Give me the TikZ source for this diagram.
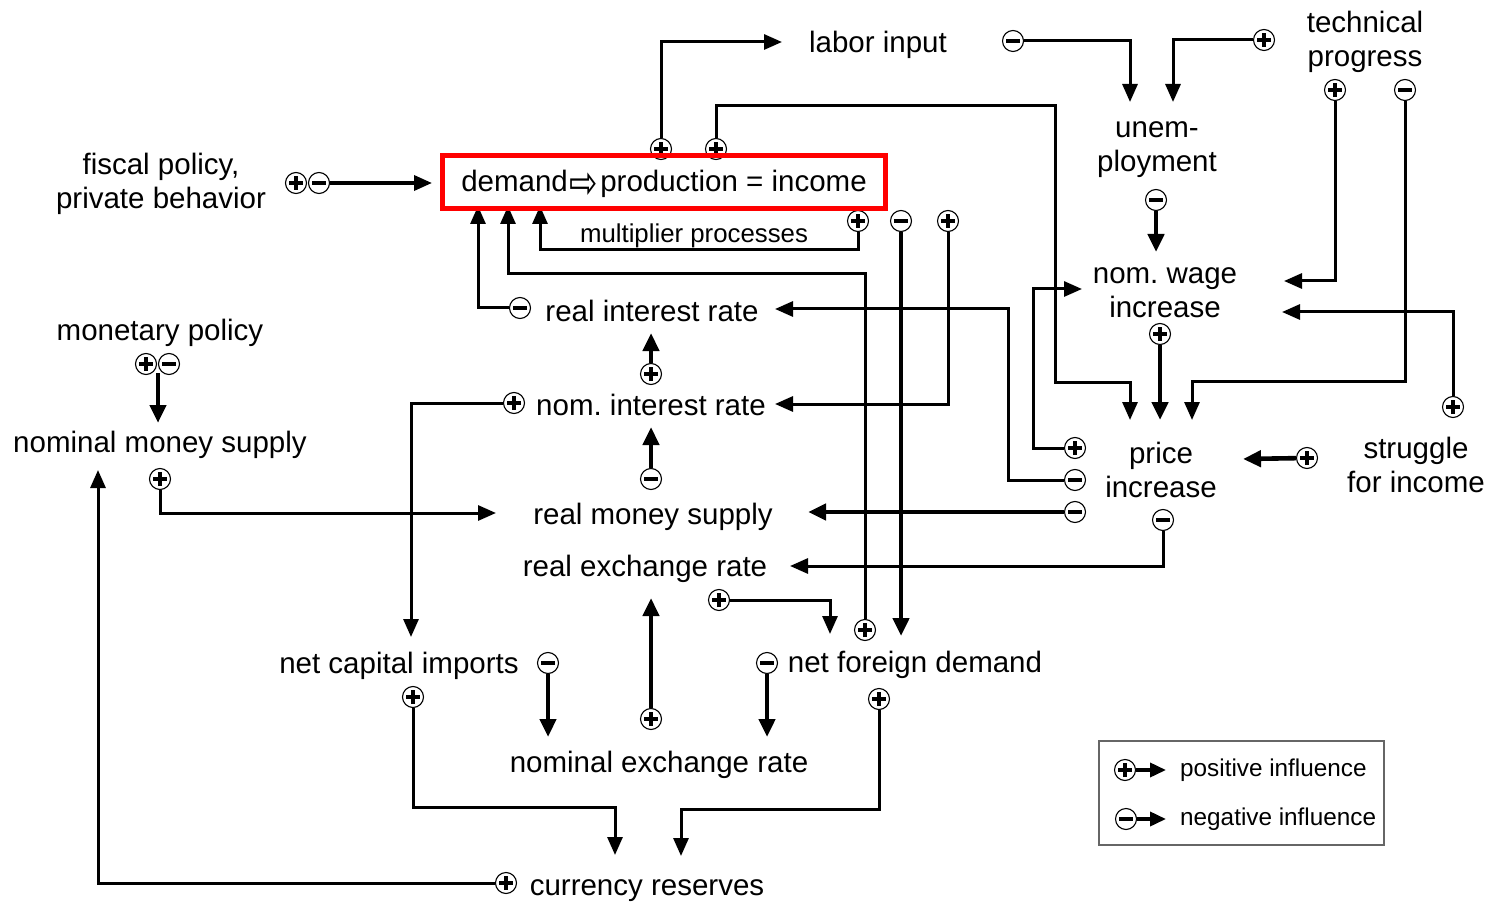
\documentclass[tikz,border=0pt]{standalone}
\usepackage{fontspec}
\setmainfont{Liberation Sans}
\newfontfamily\djv{DejaVu Sans}
\usetikzlibrary{arrows.meta}
\frenchspacing
\begin{document}
\begin{tikzpicture}[x=1pt,y=-1pt,
  txt/.style={font=\fontsize{29.5}{34}\selectfont, inner sep=0pt},
  txtm/.style={txt, align=center},
  sml/.style={font=\fontsize{25.8}{30}\selectfont, inner sep=0pt},
  lgd/.style={font=\fontsize{24.3}{28}\selectfont, inner sep=0pt, anchor=west},
  sgn/.style={circle, draw, line width=1.1pt, fill=white, minimum size=21pt, inner sep=0pt},
  pl/.style={sgn, path picture={\draw[line width=3.2pt]
      ([xshift=-7pt]path picture bounding box.center) -- ([xshift=7pt]path picture bounding box.center)
      ([yshift=-7pt]path picture bounding box.center) -- ([yshift=7pt]path picture bounding box.center);}},
  mi/.style={sgn, path picture={\draw[line width=3.2pt]
      ([xshift=-7pt]path picture bounding box.center) -- ([xshift=7pt]path picture bounding box.center);}},
  thin/.style={line width=3pt, -{Triangle[length=18pt,width=15pt]}},
  thick/.style={line width=4.6pt, -{Triangle[length=18pt,width=16pt]}},
  lgarrow/.style={line width=3.6pt, -{Triangle[length=16pt,width=14pt]}}
]
\useasboundingbox (0,0) rectangle (1499,909);

% ---------- text nodes ----------
\node[txt, anchor=base] (labor) at (878,53) {labor input};
\node[txtm] (tech) at (1365,42) {technical\\progress};
\node[txtm] (unemp) at (1157,150) {unem-\\ployment};
\node[txtm] (fiscal) at (161,184) {fiscal policy,\\private behavior};
\node[sml, anchor=base] (multi) at (694,243) {multiplier processes};
\node[txt, anchor=base] (monpol) at (160,340) {monetary policy};
\node[txt, anchor=base] (nms) at (160,452) {nominal money supply};
\node[txt, anchor=base] (rir) at (652,321) {real interest rate};
\node[txt, anchor=base] (nir) at (651,415) {nom. interest rate};
\node[txt, anchor=base] (rms) at (653,524) {real money supply};
\node[txt, anchor=base] (rer) at (645,576) {real exchange rate};
\node[txt, anchor=base] (nci) at (399,673) {net capital imports};
\node[txt, anchor=base] (nfd) at (915,672) {net foreign demand};
\node[txt, anchor=base] (ner) at (659,772) {nominal exchange rate};
\node[txt, anchor=base] (cres) at (647,895) {currency reserves};
\node[txtm] (wage) at (1165,292.5) {nom. wage\\increase};
\node[txtm] (price) at (1161,470) {price\\increase};
\node[txtm] (strug) at (1416,465) {struggle\\for income};

% ---------- arrow tip coordinates ----------
\coordinate (t1) at (782,42);
\coordinate (t2) at (1130,420);
\coordinate (t3) at (1130,102);
\coordinate (t4) at (1173,102);
\coordinate (t5) at (1284,281);
\coordinate (t6) at (1192,420);
\coordinate (t7) at (1156,252);
\coordinate (t8) at (1160,420);
\coordinate (t9) at (1282,312);
\coordinate (t10) at (1243,459);
\coordinate (t11) at (1082,289);
\coordinate (t12) at (775,309);
\coordinate (t13) at (808,512);
\coordinate (t14) at (790,566);
\coordinate (t15) at (432,183);
\coordinate (t16) at (540,206);
\coordinate (t17) at (901,636);
\coordinate (t18) at (775,404);
\coordinate (t19) at (478,206);
\coordinate (t20) at (508,206);
\coordinate (t21) at (651,333);
\coordinate (t22) at (651,427);
\coordinate (t23) at (411,637);
\coordinate (t24) at (158,423);
\coordinate (t25) at (496,513);
\coordinate (t26) at (830,634);
\coordinate (t27) at (548,737);
\coordinate (t28) at (651,598);
\coordinate (t29) at (767,737);
\coordinate (t30) at (615,855);
\coordinate (t31) at (681,856);
\coordinate (t32) at (98,470);
\coordinate (mp) at (158,373);

% ---------- sign nodes ----------
\node[pl] (s1) at (661,149) {};
\node[pl] (s2) at (716,149) {};
\node[mi] (s3) at (1013,41) {};
\node[pl] (s4) at (1264,40) {};
\node[pl] (s5) at (1335,90) {};
\node[mi] (s6) at (1405,90) {};
\node[mi] (s7) at (1156,200) {};
\node[pl] (s8) at (1160,334) {};
\node[pl] (s9) at (1453,407) {};
\node[pl] (s10) at (1307,458) {};
\node[pl] (s11) at (1075,448) {};
\node[mi] (s12) at (1075,480) {};
\node[mi] (s13) at (1075,512) {};
\node[mi] (s14) at (1163,520) {};
\node[pl] (s15a) at (296,183) {};
\node[mi] (s15b) at (319,183) {};
\node[pl] (s16) at (858,221) {};
\node[mi] (s17) at (901,221) {};
\node[pl] (s18) at (948,221) {};
\node[mi] (s19) at (520,308) {};
\node[pl] (s20) at (865,630) {};
\node[pl] (s21) at (651,374) {};
\node[mi] (s22) at (651,479) {};
\node[pl] (s23) at (514,403) {};
\node[pl] (s24a) at (146,364) {};
\node[mi] (s24b) at (169,364) {};
\node[pl] (s25) at (160,479) {};
\node[pl] (s26) at (719,600) {};
\node[mi] (s27) at (548,663) {};
\node[pl] (s28) at (651,719) {};
\node[mi] (s29) at (767,663) {};
\node[pl] (s30) at (413,697) {};
\node[pl] (s31) at (879,699) {};
\node[pl] (s32) at (506,883) {};

% ---------- connectors ----------
\draw[thin] (s1) |- (t1);
\draw[thin] (s2) |- (1055,106) |- (1130,382) -- (t2);
\draw[thin] (s3) -| (t3);
\draw[thin] (s4) -| (t4);
\draw[thin] (s5) |- (t5);
\draw[thin] (s6) |- (1192,381) -- (t6);
\draw[thick] (s7) -- (t7);
\draw[thick] (s8) -- (t8);
\draw[thin] (s9) |- (t9);
\draw[thick] (s10) -- (t10);
\draw[thin] (s11) -| (1033,289) -- (t11);
\draw[thin] (s12) -| (1008,309) -- (t12);
\draw[thick] (s13) -- (t13);
\draw[thin] (s14) |- (t14);
\draw[line width=3.5pt, -{Triangle[length=18pt,width=15pt]}] (s15b) -- (t15);
\draw[thin] (s16) |- (540,250) -- (t16);
\draw[thick] (s17) -- (t17);
\draw[thin] (s18) |- (t18);
\draw[thin] (s19) -| (t19);
\draw[thin] (s20) |- (508,274) -- (t20);
\draw[thick] (s21) -- (t21);
\draw[thick] (s22) -- (t22);
\draw[thin] (s23) -| (t23);
\draw[thick] (mp) -- (t24);
\draw[thin] (s25) |- (t25);
\draw[thin] (s26) -| (t26);
\draw[thick] (s27) -- (t27);
\draw[thick] (s28) -- (t28);
\draw[thick] (s29) -- (t29);
\draw[thin] (s30) |- (615,807) -- (t30);
\draw[thin] (s31) |- (681,809) -- (t31);
\draw[thin] (s32) -| (t32);

% ---------- central box ----------
\node[draw=red, line width=5pt, minimum width=443pt, minimum height=53pt, inner sep=0pt,
      text height=25pt, text depth=5pt,
      font=\fontsize{29.5}{34}\selectfont] (dpi) at (664,182)
      {demand\hspace{2pt}\raisebox{-7pt}{\scalebox{1.15}[1.55]{\djv ⇨}}\hspace{2pt}production = income};

% ---------- legend ----------
\node[draw=black!60, line width=1.2pt, minimum width=285pt, minimum height=104pt, inner sep=0pt]
  (legend) at (1241.5,793) {};
\node[pl] (lp) at (1125,770) {};
\node[mi] (lm) at (1126,819) {};
\coordinate (lpt) at (1166,770);
\coordinate (lmt) at (1166,819);
\draw[lgarrow] (lp) -- (lpt);
\draw[lgarrow] (lm) -- (lmt);
\node[lgd] (lptxt) at (1180,770) {positive influence};
\node[lgd] (lmtxt) at (1180,819) {negative influence};
\end{tikzpicture}
\end{document}
